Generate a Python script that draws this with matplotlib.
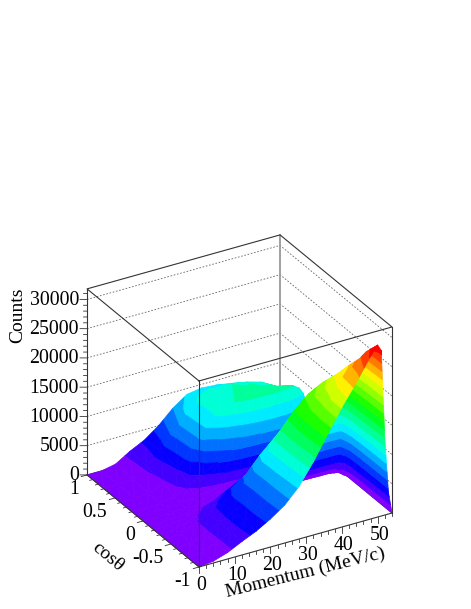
#!/usr/bin/env python3
"""
Counts vs momentum and cos(theta), drawn as a banded 3D surface
"""

import colorsys

import matplotlib
matplotlib.use('Agg')
import matplotlib.pyplot as plt
import numpy as np
from mpl_toolkits.mplot3d import proj3d
from mpl_toolkits.mplot3d.art3d import Poly3DCollection

momentum = [0, 4, 8, 12, 16, 20, 24, 28, 32, 36, 40, 44, 48, 50, 51, 52, 53, 54]
cos_theta = [-1, -0.8, -0.6, -0.4, -0.3, -0.2, -0.1, 0, 0.1, 0.2, 0.4, 0.7, 1]

# counts along each cos(theta) row
row_m100 = [0, 300, 1100, 2300, 3400, 4800, 6500, 9000, 12500, 16500, 20500, 24000, 27800, 29400, 28300, 13000, 3800, 0]
row_m080 = [0, 350, 1150, 2400, 3500, 4900, 6600, 9200, 12800, 16600, 20300, 23500, 25800, 26700, 25500, 12500, 3600, 0]
row_m060 = [0, 350, 1200, 2400, 3500, 4900, 6600, 9400, 13000, 16500, 19500, 21800, 23000, 23000, 22000, 11000, 3200, 0]
row_m040 = [0, 300, 1200, 2300, 3400, 5000, 6700, 9500, 13000, 15800, 18000, 19300, 20000, 19800, 19000, 9500, 2800, 0]
row_m030 = [0, 250, 1000, 1700, 2800, 4400, 6100, 8800, 11000, 12500, 13500, 14000, 14200, 13800, 13000, 6500, 2000, 0]
row_m020 = [0, 150, 600, 1100, 2000, 3200, 4500, 5000, 4200, 3500, 3000, 2800, 2600, 2500, 2300, 1200, 400, 0]
row_m010 = [0, 50, 150, 300, 500, 800, 1000, 800, 500, 400, 350, 350, 300, 300, 250, 120, 50, 0]
row_p000 = [0, 20, 50, 100, 150, 200, 200, 200, 200, 200, 200, 200, 200, 180, 150, 80, 30, 0]
row_p010 = [0, 20, 60, 200, 500, 900, 1200, 1500, 1700, 1800, 1800, 1800, 1700, 1600, 1400, 700, 200, 0]
row_p020 = [0, 20, 100, 600, 1800, 3000, 4500, 6000, 7000, 7500, 7800, 7800, 7200, 6800, 6000, 3000, 800, 0]
row_p040 = [0, 30, 200, 1200, 3000, 6000, 9000, 10800, 11600, 12200, 12400, 12300, 11800, 11000, 10000, 5000, 1200, 0]
row_p070 = [0, 50, 300, 1800, 3800, 6500, 9500, 10800, 11300, 11600, 11400, 10700, 9300, 8800, 8000, 4000, 1000, 0]
row_p100 = [0, 0, 500, 2000, 3200, 5000, 7300, 9000, 9400, 9200, 8800, 8000, 6800, 6300, 5800, 2800, 800, 0]

z_ticks = [0, 5000, 10000, 15000, 20000, 25000, 30000]
z_tick_labels = ['0', '5000', '10000', '15000', '20000', '25000', '30000']
p_ticks = [0, 10, 20, 30, 40, 50]
cos_ticks = [1, 0.5, 0, -0.5, -1]
cos_tick_labels = ['1', '0.5', '0', '-0.5', '-1']

P_MAX = 54
Z_TOP = 31800
Z_PEAK = 29000
N_BANDS = 20

plt.rcParams['font.family'] = ['Liberation Serif', 'DejaVu Serif']


def clip_half(poly, level, keep_above):
    """Clip a polygon against a horizontal plane"""
    out = []
    for i in range(len(poly)):
        a = poly[i]
        b = poly[(i + 1) % len(poly)]
        a_in = a[2] >= level if keep_above else a[2] <= level
        b_in = b[2] >= level if keep_above else b[2] <= level
        if a_in:
            out.append(a)
        if a_in != b_in:
            t = (level - a[2]) / (b[2] - a[2])
            out.append(tuple(a[k] + t * (b[k] - a[k]) for k in range(3)))
    return out


def band_polygons(P, C, Z, levels, colors):
    """Cut the table's triangles along the colour levels"""
    polys, faces = [], []
    for i in range(Z.shape[0] - 1):
        for j in range(Z.shape[1] - 1):
            corners = [(P[j], C[i], Z[i, j]), (P[j + 1], C[i], Z[i, j + 1]),
                       (P[j + 1], C[i + 1], Z[i + 1, j + 1]), (P[j], C[i + 1], Z[i + 1, j])]
            for tri in ([corners[0], corners[1], corners[2]], [corners[0], corners[2], corners[3]]):
                zs = [v[2] for v in tri]
                for b in range(len(colors)):
                    if max(zs) < levels[b] or min(zs) > levels[b + 1]:
                        continue
                    piece = clip_half(tri, levels[b], True)
                    if len(piece) >= 3:
                        piece = clip_half(piece, levels[b + 1], False)
                    if len(piece) >= 3:
                        polys.append(piece)
                        faces.append(colors[b])
    return polys, faces


fig = plt.figure(figsize=(4.71, 6.09), dpi=100)
W, H = 471, 609
side = 471
ax = fig.add_axes([0, 0, side / W, side / H], projection='3d')
ax.computed_zorder = False
ax.set_proj_type('ortho')
ax.set_box_aspect((223.4, 222.2, 212))
ax.view_init(elev=28.66, azim=-120.25, roll=0)
ax.set_xlim(0, P_MAX)
ax.set_ylim(-1, 1)
ax.set_zlim(0, Z_TOP)
ax.set_axis_off()


def to_pixels(x, y, z):
    X, Y, _ = proj3d.proj_transform(x, y, z, ax.get_proj())
    return ax.transData.transform((X, Y))


# scale and move the axes so the front corner and box width land where they should
px0 = to_pixels(0, -1, 0)
px1 = to_pixels(P_MAX, -1, 0)
side = side * 193 / (px1[0] - px0[0])
ax.set_position([0, 0, side / W, side / H])
px0 = to_pixels(0, -1, 0)
ax.set_position([(199 - px0[0]) / W, (609 - 567 - px0[1]) / H, side / W, side / H])

# back walls
for zt in z_ticks[1:]:
    ax.plot([0, P_MAX, P_MAX], [1, 1, -1], [zt, zt, zt], color='#666666', lw=0.6, ls=(0, (2, 2)), zorder=1)
ax.plot([P_MAX, P_MAX], [1, 1], [0, Z_TOP], color='#999999', lw=1.3, zorder=1)
ax.plot([0, P_MAX, P_MAX], [1, 1, -1], [0, 0, 0], color='#333333', lw=0.7, zorder=1)

# surface
levels = np.linspace(0, Z_PEAK, N_BANDS + 1)
levels[-1] = Z_TOP
colors = [colorsys.hsv_to_rgb(h, 1, 1) for h in np.linspace(0.75, 0, N_BANDS)]
Z = np.array([row_m100, row_m080, row_m060, row_m040, row_m030, row_m020, row_m010,
              row_p000, row_p010, row_p020, row_p040, row_p070, row_p100], dtype=float)
polys, faces = band_polygons(momentum, cos_theta, Z, levels, colors)
surf = Poly3DCollection(polys, facecolors=faces, edgecolors=faces, linewidths=0.5, zorder=2)
ax.add_collection3d(surf)

# box edges in front of the surface
box = dict(color='#333333', lw=0.8, zorder=3)
ax.plot([0, P_MAX, P_MAX, 0, 0], [-1, -1, 1, 1, -1], [Z_TOP] * 5, **box)
ax.plot([0, 0], [-1, -1], [0, Z_TOP], **box)
ax.plot([0, 0], [1, 1], [0, Z_TOP], **box)
ax.plot([P_MAX, P_MAX], [-1, -1], [0, Z_TOP], **box)
ax.plot([0, P_MAX], [-1, -1], [0, 0], **box)
ax.plot([0, 0], [-1, 1], [0, 0], **box)

tick = dict(color='#333333', lw=0.6, zorder=3)
for v in np.arange(0, Z_TOP, 1000):
    # horizontal on screen: a little along both floor directions
    dp = 1.46 if v % 5000 == 0 else 0.73
    ax.plot([-dp, 0], [1 + dp * 0.022, 1], [v, v], **tick)
for v in np.arange(0, P_MAX + 0.1, 2):
    dz = 1000 if v % 10 == 0 else 500
    ax.plot([v, v], [-1, -1], [-dz, 0], **tick)
for v in np.arange(-1, 1.01, 0.1):
    dp = 1.6 if abs(v * 2 - round(v * 2)) < 1e-6 else 0.8
    ax.plot([-dp, 0], [v, v], [0, 0], **tick)


def tick_label(x, y, z, text, dx, dy, ha):
    X, Y, _ = proj3d.proj_transform(x, y, z, ax.get_proj())
    ax.annotate(text, (X, Y), xytext=(dx, dy), textcoords='offset pixels', ha=ha, va='center',
                fontsize=14.3, annotation_clip=False)


for zt, lab in zip(z_ticks, z_tick_labels):
    tick_label(0, 1, zt, lab, -8, -1, 'right')
for v in p_ticks:
    tick_label(v, -1, 0, str(v), 2, -18, 'center')
for v, lab in zip(cos_ticks, cos_tick_labels):
    tick_label(0, v, 0, lab, -8, -15, 'right')

fig.text(18 / W, 1 - 315 / H, 'Counts', rotation=90, ha='center', va='center', fontsize=14)
fig.text(108 / W, 1 - 557 / H, 'cosθ', rotation=-40, rotation_mode='anchor', ha='center', va='center', fontsize=14)
fig.text(305 / W, 1 - 573 / H, 'Momentum (MeV/c)', rotation=14, rotation_mode='anchor',
         ha='center', va='center', fontsize=14)

fig.savefig('out.png', dpi=100)
